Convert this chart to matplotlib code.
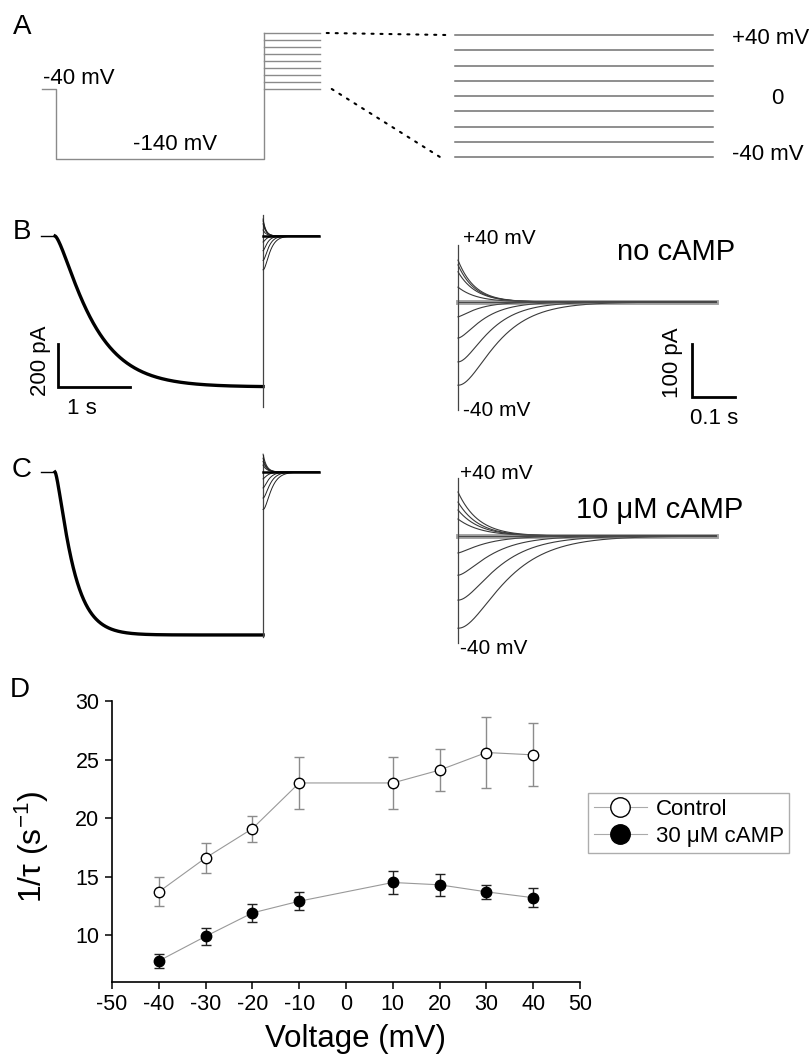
import numpy as np
import matplotlib
matplotlib.use("Agg")
import matplotlib.pyplot as plt
from matplotlib.patches import ConnectionPatch
from matplotlib.lines import Line2D

plt.rcParams['font.family'] = ['Liberation Sans', 'DejaVu Sans']
plt.rcParams['mathtext.default'] = 'regular'
plt.rcParams['axes.unicode_minus'] = False

# ---------------- data ----------------
test_voltages = [-40, -30, -20, -10, 0, 10, 20, 30, 40]      # mV
hold_v = -40
hyper_v = -140
t_hold = 0.19          # s
t_hyper = 2.89         # s
t_test = 0.78          # s
t_tail_view = 0.60     # s (expanded tail window)

act_amp_b = 702        # pA, steady-state Ih, no cAMP
act_tau_b = 0.45       # s
act_amp_c = 758        # pA, with cAMP
act_tau_c = 0.21       # s
act_power = 1.5

tail_amp_b = [-157, -113, -68, -28, 0, 28, 57, 70, 79]     # pA at -40..+40
tail_amp_c = [-174, -121, -74, -32, 0, 32, 49, 64, 83]
tail_rate_b = [14.5, 17.0, 19.5, 23.0, 23.0, 23.0, 24.0, 25.5, 25.5]   # 1/s
tail_rate_c = [12.0, 13.5, 15.0, 17.0, 18.0, 19.0, 20.0, 21.0, 21.0]
tail_shape = [2.2, 2.0, 1.7, 1.4, 1.0, 1.0, 1.0, 1.0, 1.0]

transient_left_b = [98, -795]
transient_left_c = [79, -767]
transient_right_b = [108, -204]
transient_right_c = [109, -202]

voltage_d = [-40, -30, -20, -10, 10, 20, 30, 40]
rate_control = [13.7, 16.6, 19.1, 23.0, 23.0, 24.1, 25.6, 25.4]
sem_control = [1.25, 1.3, 1.1, 2.2, 2.2, 1.8, 3.05, 2.7]
rate_camp = [7.8, 9.9, 11.9, 12.9, 14.5, 14.3, 13.7, 13.2]
sem_camp = [0.57, 0.7, 0.8, 0.75, 0.97, 0.93, 0.57, 0.83]

# ---------------- figure ----------------
W, H = 812, 1055
fig = plt.figure(figsize=(W / 100, H / 100), dpi=100)


def px_axes(x0_px, xscale, y0_px, yscale, xr, yr):
    """axes whose data 0 sits at pixel (x0_px, y0_px); scales in px/unit"""
    ax = fig.add_axes([xr[0] / W, 1 - yr[1] / H, (xr[1] - xr[0]) / W, (yr[1] - yr[0]) / H])
    ax.set_xlim((xr[0] - x0_px) / xscale, (xr[1] - x0_px) / xscale)
    ax.set_ylim((y0_px - yr[1]) / yscale, (y0_px - yr[0]) / yscale)
    ax.axis('off')
    return ax


def ftext(x, y, s, **kw):
    kw.setdefault('ha', 'center')
    kw.setdefault('va', 'center')
    return fig.text(x / W, 1 - y / H, s, **kw)


def tail(t, amp, rate, p):
    if amp == 0:
        return np.zeros_like(t)
    return amp * (1 - (1 - np.exp(-t * rate)) ** p)


# ---------------- panel A ----------------
axA1 = px_axes(56, 72, 61, 0.7, (30, 340), (20, 170))
gcol = '#8a8a8a'
axA1.plot([-t_hold, 0, 0, t_hyper, t_hyper],
          [hold_v, hold_v, hyper_v, hyper_v, max(test_voltages)], color=gcol, lw=1)
for v in test_voltages:
    axA1.plot([t_hyper, t_hyper + t_test], [v, v], color=gcol, lw=1)

axA2 = px_axes(455, 430, 96, 1.525, (430, 740), (20, 170))
for v in test_voltages:
    axA2.plot([0, t_tail_view], [v, v], color='#707070', lw=1.1)

for (ta, va, tb, vb) in [(t_hyper + t_test + 0.09, max(test_voltages), -0.019, max(test_voltages)),
                         (t_hyper + t_test + 0.16, min(test_voltages), -0.035, min(test_voltages))]:
    cp = ConnectionPatch(xyA=(ta, va), coordsA=axA1.transData,
                         xyB=(tb, vb), coordsB=axA2.transData,
                         color='black', lw=1.5, linestyle=(0, (1, 3.3)))
    fig.add_artist(cp)

ftext(22, 27, 'A', fontsize=20)
ftext(43, 78, '-40 mV', fontsize=16, ha='left')
ftext(133, 144, '-140 mV', fontsize=16, ha='left')
ftext(732, 39, '+40 mV', fontsize=16, ha='left')
ftext(777, 98, '0', fontsize=16)
ftext(732, 155, '-40 mV', fontsize=16, ha='left')


# ---------------- panels B and C ----------------
def left_panel(y0, act_amp, act_tau, amps, rates, transient):
    ax = px_axes(55, 72, y0, 0.215, (30, 340), (y0 - 40, y0 + 185))
    ax.plot([-t_hold, 0], [0, 0], color='black', lw=1)
    t = np.linspace(0, t_hyper, 800)
    ax.plot(t, -act_amp * (1 - np.exp(-t / act_tau)) ** act_power, color='black', lw=2.4)
    ax.plot([t_hyper, t_hyper], transient, color='#444444', lw=0.9)
    tt = np.linspace(0, t_test, 400)
    for a, r, p in zip(amps, rates, tail_shape):
        ax.plot(t_hyper + tt, tail(tt, a, r, p), color='#222222', lw=0.7)
    ax.plot(t_hyper + tt, np.zeros_like(tt), color='black', lw=1.8)
    return ax


def right_panel(y0, amps, rates, transient):
    ax = px_axes(458, 430, y0, 0.53, (440, 760), (y0 - 75, y0 + 130))
    ax.plot([0, 0], transient, color='#444444', lw=0.9)
    tt = np.linspace(0, t_tail_view, 600)
    for a, r, p in zip(amps, rates, tail_shape):
        ax.plot(tt, tail(tt, a, r, p), color='#3a3a3a', lw=0.8)
    ax.plot(tt, np.zeros_like(tt), color='#555555', lw=3.5, alpha=0.55)
    return ax


axB1 = left_panel(236, act_amp_b, act_tau_b, tail_amp_b, tail_rate_b, transient_left_b)
axB2 = right_panel(302, tail_amp_b, tail_rate_b, transient_right_b)
axC1 = left_panel(472, act_amp_c, act_tau_c, tail_amp_c, tail_rate_c, transient_left_c)
axC2 = right_panel(536, tail_amp_c, tail_rate_c, transient_right_c)

# scale bars
bar_t0, bar_i0 = 0.04, -702
axB1.plot([bar_t0, bar_t0, bar_t0 + 1.0], [bar_i0 + 200, bar_i0, bar_i0],
          color='black', lw=2, solid_joinstyle='miter')
bar_t1, bar_i1 = 0.544, -179
axB2.plot([bar_t1, bar_t1, bar_t1 + 0.1], [bar_i1 + 100, bar_i1, bar_i1],
          color='black', lw=2, solid_joinstyle='miter')

ftext(22, 232, 'B', fontsize=20)
ftext(41, 361, '200 pA', fontsize=16, rotation=90)
ftext(82, 408, '1 s', fontsize=16)
ftext(463, 238, '+40 mV', fontsize=15, ha='left')
ftext(676, 252, 'no cAMP', fontsize=21)
ftext(463, 410, '-40 mV', fontsize=15, ha='left')
ftext(673, 363, '100 pA', fontsize=16, rotation=90)
ftext(714, 418, '0.1 s', fontsize=16)

ftext(22, 470, 'C', fontsize=20)
ftext(460, 473, '+40 mV', fontsize=15, ha='left')
ftext(660, 510, '10 \u03bcM cAMP', fontsize=21)
ftext(460, 648, '-40 mV', fontsize=15, ha='left')

# ---------------- panel D ----------------
axD = fig.add_axes([112 / W, 1 - 982 / H, 468 / W, 281 / H])
axD.errorbar(voltage_d, rate_control, yerr=sem_control, fmt='o', color='#999999',
             ecolor='#8c8c8c', elinewidth=1, capsize=3.5, capthick=1,
             markersize=7.5, markerfacecolor='white', markeredgecolor='black',
             markeredgewidth=1, linestyle='-', lw=0.8, zorder=3)
axD.errorbar(voltage_d, rate_camp, yerr=sem_camp, fmt='o', color='#999999',
             ecolor='#222222', elinewidth=1, capsize=3.5, capthick=1,
             markersize=7.5, markerfacecolor='black', markeredgecolor='black',
             markeredgewidth=1, linestyle='-', lw=0.8, zorder=3)
axD.set_xlim(-50, 50)
axD.set_ylim(6, 30)
axD.set_xticks(np.arange(-50, 51, 10))
axD.set_yticks([10, 15, 20, 25, 30])
for s in ['top', 'right']:
    axD.spines[s].set_visible(False)
for s in ['left', 'bottom']:
    axD.spines[s].set_linewidth(1.2)
axD.tick_params(direction='out', length=5, width=1.1, labelsize=15.5, pad=4)
axD.set_xlabel('Voltage (mV)', fontsize=22.5)
axD.xaxis.set_label_coords(0.52, -0.15)
axD.set_ylabel('1/\u03c4 (s$^{-1}$)', fontsize=23)
axD.yaxis.set_label_coords(-0.13, 0.48)

h1 = Line2D([], [], color='#aaaaaa', lw=0.8, marker='o', markersize=14,
            markerfacecolor='white', markeredgecolor='black', markeredgewidth=1)
h2 = Line2D([], [], color='#aaaaaa', lw=0.8, marker='o', markersize=14,
            markerfacecolor='black', markeredgecolor='black', markeredgewidth=1)
leg = fig.legend([h1, h2], ['Control', '30 \u03bcM cAMP'], loc='upper left',
                 bbox_to_anchor=(588 / W, 1 - 793 / H), bbox_transform=fig.transFigure,
                 fontsize=16, frameon=True, fancybox=False, edgecolor='#999999',
                 handlelength=2.4, handletextpad=0.4, borderpad=0.25,
                 labelspacing=0.3, borderaxespad=0)
leg.get_frame().set_linewidth(1)

ftext(20, 690, 'D', fontsize=20)

fig.savefig('out.png', dpi=100)
